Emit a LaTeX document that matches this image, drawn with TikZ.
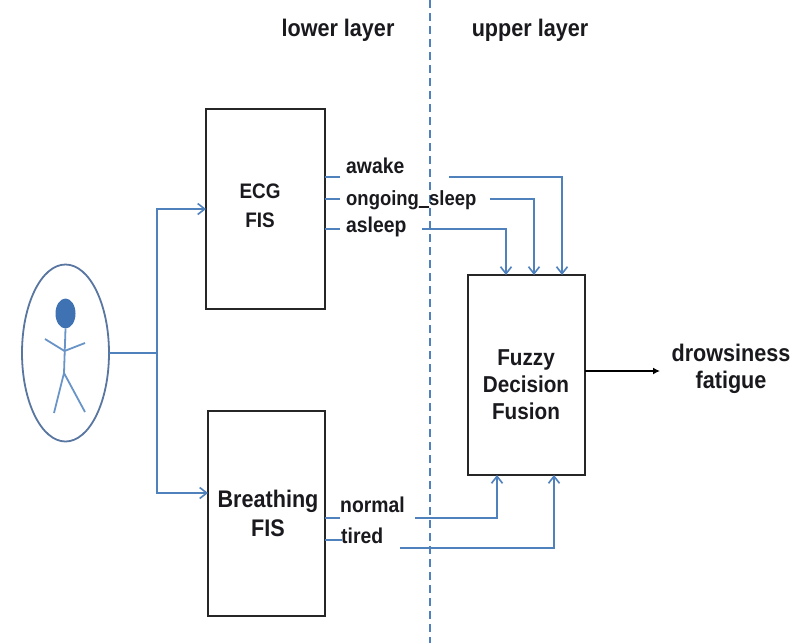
\documentclass[tikz,border=0pt]{standalone}
\usepackage{fontspec}
\setmainfont[FakeStretch=0.9]{Liberation Sans}
\usetikzlibrary{arrows.meta,calc,shapes.geometric}
\definecolor{lnblue}{RGB}{79,129,189}
\definecolor{ringblue}{RGB}{88,118,160}
\definecolor{headblue}{RGB}{62,114,178}
\definecolor{txtc}{RGB}{25,25,30}
\tikzset{
  blockbox/.style={draw=black!85,line width=2pt,fill=white,inner sep=0pt,outer sep=0pt,anchor=north west},
  wire/.style={draw=lnblue,line width=1.9pt},
  arrowwire/.style={wire,-{Straight Barb[length=7pt,width=11pt,line width=1.6pt]}},
  stick/.style={draw=lnblue!85,line width=1.8pt},
  lab/.style={font=\fontsize{24}{24}\selectfont\bfseries,text=txtc,inner sep=0pt,align=center},
  sig/.style={font=\fontsize{21.5}{22}\selectfont\bfseries,text=txtc,inner sep=0pt,anchor=base west},
}
\begin{document}
\begin{tikzpicture}[x=1pt,y=-1pt]
\useasboundingbox (0,0) rectangle (800,643);
\fill[white] (0,0) rectangle (800,643);
% layer divider
\coordinate (divT) at (430,0);
\coordinate (divB) at (430,643);
\draw[draw=lnblue,line width=1.6pt,dash pattern=on 8pt off 5pt] (divT) -- (divB);
\node[lab] (lower) at (338,30) {lower layer};
\node[lab] (upper) at (530,30) {upper layer};
% blocks
\node[blockbox,minimum width=119pt,minimum height=200pt] (ecg) at (206,109) {};
\node[lab,font=\fontsize{21}{21}\selectfont\bfseries] (ecgt) at (260,206) {ECG\\[8pt]FIS};
\node[blockbox,minimum width=117pt,minimum height=205pt] (breath) at (208,411) {};
\node[lab] (breatht) at (268,513) {Breathing\\[5pt]FIS};
\node[blockbox,minimum width=117pt,minimum height=200pt] (fuzzy) at (468,275) {};
\node[lab,font=\fontsize{23}{24}\selectfont\bfseries] (fuzzyt) at (526,385) {Fuzzy\\[3pt]Decision\\[3pt]Fusion};
% person
\node[draw=ringblue,line width=1.8pt,ellipse,inner sep=0pt,outer sep=0pt,minimum width=87pt,minimum height=177pt] (actor) at (65.5,353) {};
\node[fill=headblue,ellipse,inner sep=0pt,minimum width=20pt,minimum height=30pt] (head) at (65.5,313.5) {};
\coordinate (hip) at (64,373);
\coordinate (shoulder) at (64.5,351);
\coordinate (handL) at (45,339);
\coordinate (handR) at (85,343);
\coordinate (footL) at (54,413);
\coordinate (footR) at (85,412);
\draw[stick] (head.south) -- (hip);
\draw[stick] (handL) -- (shoulder) -- (handR);
\draw[stick] (footL) -- (hip) -- (footR);
% input connectors
\coordinate (split) at (157,353);
\draw[wire] (actor.east) -- (split);
\draw[arrowwire] (split) |- (ecg.west |- 0,209);
\draw[arrowwire] (split) |- (breath.west |- 0,493);
% labels
\node[sig] (awake) at (346,173) {awake};
\node[sig,font=\fontsize{20.5}{22}\selectfont\bfseries] (ongoing) at (346,205) {ongoing\rlap{\rule[-2.6pt]{10.4pt}{1.8pt}}\symbol{95}sleep};
\node[sig] (asleep) at (346,232) {asleep};
\node[sig] (normal) at (340,512) {normal};
\node[sig] (tired) at (341,543) {tired};
% stubs
\coordinate (s1) at (340,177);
\coordinate (s2) at (340,199);
\coordinate (s3) at (340,229);
\coordinate (s4) at (340,518);
\coordinate (s5) at (342,540);
\draw[wire] (ecg.east |- s1) -- (s1);
\draw[wire] (ecg.east |- s2) -- (s2);
\draw[wire] (ecg.east |- s3) -- (s3);
\draw[wire] (breath.east |- s4) -- (s4);
\draw[wire] (breath.east |- s5) -- (s5);
% into fusion
\coordinate (a1) at (449,177);
\coordinate (a2) at (490,199);
\coordinate (a3) at (422,229);
\coordinate (a4) at (415,518);
\coordinate (a5) at (400,548);
\draw[arrowwire] (a1) -| (fuzzy.north -| 562,0);
\draw[arrowwire] (a2) -| (fuzzy.north -| 534,0);
\draw[arrowwire] (a3) -| (fuzzy.north -| 506,0);
\draw[arrowwire] (a4) -| (fuzzy.south -| 497,0);
\draw[arrowwire] (a5) -| (fuzzy.south -| 554,0);
% output
\node[lab] (out) at (731,369) {drowsiness\\[3pt]fatigue};
\coordinate (outp) at (660,371);
\draw[draw=black,line width=1.8pt,-{Latex[length=7pt,width=7pt]}] (fuzzy.east |- outp) -- (outp);
\end{tikzpicture}
\end{document}
